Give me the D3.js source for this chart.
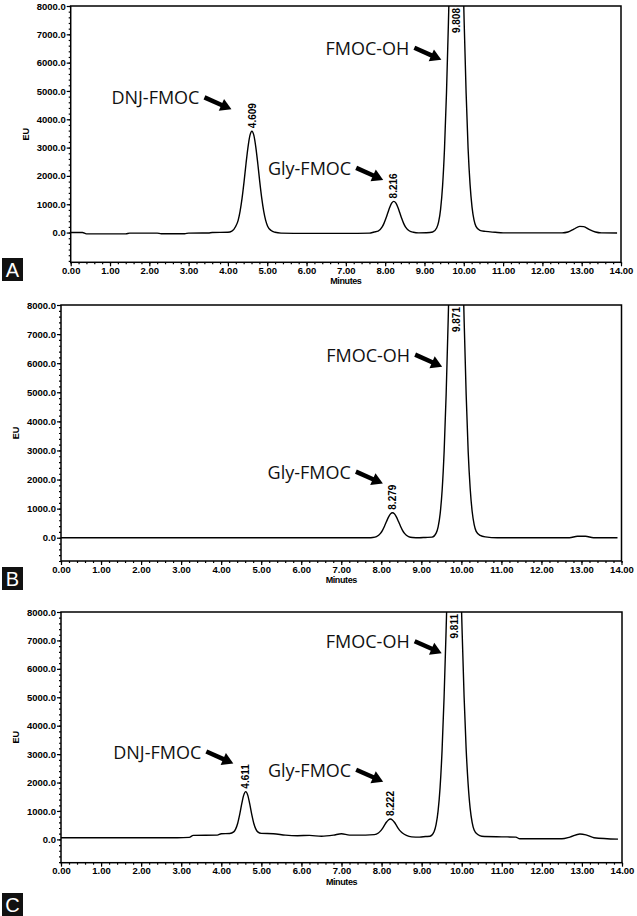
<!DOCTYPE html>
<html>
<head>
<meta charset="utf-8">
<script src="https://cdn.jsdelivr.net/npm/d3@7"></script>
<style>
body { margin: 0; background: #fff; }
svg { display: block; }
</style>
</head>
<body>
<script>
// chromatogram traces, [minutes, EU]
var traceA = [[0,0],[0.3,0],[0.4,-45],[1.4,-45],[1.5,-20],[2.2,-20],[2.3,-40],[2.9,-40],[3.0,-20],[3.5,-15],[3.6,0],[4.0,10],
    [4.1,50],[4.2,225],[4.26,430],[4.31,755],[4.36,1215],[4.41,1790],[4.46,2430],[4.51,3010],[4.56,3430],[4.61,3580],
    [4.66,3430],[4.71,3010],[4.76,2430],[4.81,1790],[4.86,1215],[4.91,755],[4.96,430],[5.01,225],[5.1,70],[5.2,10],
    [5.35,-20],[6.0,-30],[7.0,-30],[7.6,-20],[7.72,20],[7.82,48],[7.92,190],[7.97,325],[8.02,504],[8.07,709],[8.12,905],
    [8.17,1047],[8.22,1100],[8.27,1047],[8.32,905],[8.37,709],[8.42,504],[8.47,325],[8.52,190],[8.62,55],[8.72,10],
    [8.85,-10],[9.05,-5],[9.21,20],[9.31,160],[9.36,375],[9.41,820],[9.46,1630],[9.51,2970],[9.56,4920],[9.61,7430],
    [9.66,10260],[9.71,12900],[9.76,14800],[9.81,15500],[9.86,14800],[9.91,12900],[9.96,10260],[10.01,7430],[10.06,4920],
    [10.11,2970],[10.16,1700],[10.21,900],[10.26,450],[10.31,220],[10.41,80],[10.55,40],[10.8,10],[11.0,-10],[12.5,-10],
    [12.65,20],[12.8,120],[12.95,220],[13.05,210],[13.2,100],[13.35,20],[13.5,-10],[13.9,-15]];

var traceB = [[0,0],[7.7,0],[7.78,7],[7.88,38],[7.98,148],[8.03,254],[8.08,394],[8.13,555],[8.18,708],[8.23,819],
    [8.28,860],[8.33,819],[8.38,708],[8.43,555],[8.48,394],[8.53,254],[8.58,148],[8.68,38],[8.78,7],[8.95,0],[9.1,10],
    [9.27,20],[9.37,160],[9.42,375],[9.47,820],[9.52,1630],[9.57,2970],[9.62,4920],[9.67,7430],[9.72,10260],[9.77,12900],
    [9.82,14800],[9.87,15500],[9.92,14800],[9.97,12900],[10.02,10260],[10.07,7430],[10.12,4920],[10.17,2970],[10.22,1700],
    [10.27,900],[10.32,450],[10.37,220],[10.47,80],[10.6,30],[10.9,0],[12.7,0],[12.9,50],[13.1,50],[13.3,0],[13.9,0]];

var traceC = [[0,60],[2.9,60],[3.2,70],[3.3,140],[3.9,150],[4.0,200],[4.21,206],[4.31,265],[4.36,369],[4.41,569],
    [4.46,878],[4.51,1246],[4.56,1557],[4.61,1680],[4.66,1557],[4.71,1246],[4.76,878],[4.81,569],[4.86,369],[4.91,265],
    [5.0,210],[5.3,200],[5.6,150],[5.9,130],[6.2,140],[6.5,110],[6.8,150],[7.0,200],[7.2,150],[7.6,150],[7.82,166],
    [7.92,226],[7.97,291],[8.02,382],[8.07,493],[8.12,602],[8.17,684],[8.22,715],[8.27,684],[8.32,602],[8.37,493],
    [8.42,382],[8.47,291],[8.52,226],[8.62,140],[8.75,90],[8.95,80],[9.1,100],[9.21,110],[9.31,270],[9.36,520],[9.41,995],
    [9.46,1820],[9.51,3140],[9.56,5000],[9.61,7330],[9.66,9910],[9.71,12280],[9.76,13980],[9.81,14580],[9.86,13980],
    [9.91,12280],[9.96,9910],[10.01,7330],[10.06,5000],[10.11,3200],[10.16,1950],[10.21,1100],[10.26,600],[10.31,330],
    [10.4,170],[10.5,110],[11.0,90],[11.35,80],[11.45,20],[12.5,20],[12.7,80],[12.95,190],[13.1,160],[13.3,60],[13.9,10]];

// retention time labels [minutes, text]
var peaksA = [[4.61,"4.609"],[8.22,"8.216"],[9.81,"9.808"]];
var peaksB = [[8.28,"8.279"],[9.87,"9.871"]];
var peaksC = [[4.61,"4.611"],[8.22,"8.222"],[9.81,"9.811"]];

// compound call-outs [text, arrow tip minutes, arrow tip EU]
var notesA = [["DNJ-FMOC",4.09,4350],["Gly-FMOC",7.95,1860],["FMOC-OH",9.43,6100]];
var notesB = [["Gly-FMOC",8.04,1860],["FMOC-OH",9.52,5880]];
var notesC = [["DNJ-FMOC",4.30,2670],["Gly-FMOC",8.04,2030],["FMOC-OH",9.50,6550]];

var xMajor = d3.range(0, 14.001, 1);
var xMinor = d3.range(0, 14.001, 0.2);
var yMajor = d3.range(0, 8001, 1000);

var W = 637, H = 916;
var svg = d3.select("body").append("svg").attr("width", W).attr("height", H);

var panels = [
    {id: "A", trace: traceA, peaks: peaksA, notes: notesA, left: 70.7, right: 621, top: 6, bottom: 262.3, yMin: -1050, tag: [2, 258]},
    {id: "B", trace: traceB, peaks: peaksB, notes: notesB, left: 61, right: 621.5, top: 305, bottom: 561, yMin: -800, tag: [2, 567]},
    {id: "C", trace: traceC, peaks: peaksC, notes: notesC, left: 61, right: 622, top: 612, bottom: 862.7, yMin: -820, tag: [2, 893]}
];

var tickFont = "'Liberation Sans', Arial, sans-serif";

function drawPanel(p) {
    var x = d3.scaleLinear().domain([0, 14]).range([p.left, p.right]);
    var y = d3.scaleLinear().domain([p.yMin, 8000]).range([p.bottom, p.top]);
    var g = svg.append("g");

    g.append("clipPath").attr("id", "clip" + p.id)
        .append("rect")
        .attr("x", p.left).attr("y", p.top)
        .attr("width", p.right - p.left).attr("height", p.bottom - p.top);

    var line = d3.line()
        .x(function(d) { return x(d[0]); })
        .y(function(d) { return y(d[1]); })
        .curve(d3.curveMonotoneX);

    g.append("path").datum(p.trace)
        .attr("clip-path", "url(#clip" + p.id + ")")
        .attr("d", line)
        .attr("fill", "none").attr("stroke", "#000").attr("stroke-width", 1.4);

    // minor ticks
    var yMinor = d3.range(Math.ceil(p.yMin / 200) * 200, 8001, 200);
    g.append("g").attr("transform", "translate(" + p.left + ",0)")
        .call(d3.axisLeft(y).tickValues(yMinor).tickSize(2).tickFormat(""))
        .call(function(s) { s.select(".domain").remove(); });
    g.append("g").attr("transform", "translate(0," + p.bottom + ")")
        .call(d3.axisBottom(x).tickValues(xMinor).tickSize(2).tickFormat(""))
        .call(function(s) { s.select(".domain").remove(); });

    // major ticks + labels
    var ya = g.append("g").attr("transform", "translate(" + p.left + ",0)")
        .call(d3.axisLeft(y).tickValues(yMajor).tickSize(4).tickPadding(1).tickFormat(d3.format(".1f")));
    var xa = g.append("g").attr("transform", "translate(0," + p.bottom + ")")
        .call(d3.axisBottom(x).tickValues(xMajor).tickSize(4).tickPadding(1).tickFormat(d3.format(".2f")));
    [ya, xa].forEach(function(a) {
        a.select(".domain").remove();
        a.selectAll("text").attr("font-family", tickFont).attr("font-size", 9.5)
            .attr("font-weight", "bold").attr("fill", "#000");
    });
    g.selectAll(".tick line").attr("stroke", "#000").attr("stroke-width", 1.2);

    g.append("rect")
        .attr("x", p.left).attr("y", p.top)
        .attr("width", p.right - p.left).attr("height", p.bottom - p.top)
        .attr("fill", "none").attr("stroke", "#000").attr("stroke-width", 1.5);

    g.append("text")
        .attr("transform", "translate(" + (p.left - 42) + "," + ((p.top + p.bottom) / 2) + ") rotate(-90)")
        .attr("text-anchor", "middle")
        .attr("font-family", tickFont).attr("font-size", 9).attr("font-weight", "bold")
        .text("EU");

    g.append("text")
        .attr("x", (p.left + p.right) / 2).attr("y", p.bottom + 22)
        .attr("text-anchor", "middle")
        .attr("font-family", tickFont).attr("font-size", 9).attr("font-weight", "bold")
        .attr("letter-spacing", -0.4)
        .text("Minutes");

    // retention time labels above apex
    p.peaks.forEach(function(pk) {
        var apex = d3.max(p.trace.filter(function(d) { return Math.abs(d[0] - pk[0]) < 0.06; }), function(d) { return d[1]; });
        var px = x(pk[0]) + 3.6;
        var t = g.append("text")
            .attr("font-family", tickFont).attr("font-size", 10).attr("font-weight", "bold")
            .text(pk[1]);
        if (apex > 8000) {
            t.attr("text-anchor", "end")
             .attr("transform", "translate(" + px + "," + (p.top + 2) + ") rotate(-90)");
        } else {
            t.attr("text-anchor", "start")
             .attr("transform", "translate(" + px + "," + (y(apex) - 3) + ") rotate(-90)");
        }
    });

    // call-outs with arrows
    p.notes.forEach(function(n) {
        var tip = [x(n[1]), y(n[2])];
        var tail = [tip[0] - 27, tip[1] - 12];
        var len = Math.hypot(27, 12), ux = 27 / len, uy = 12 / len;
        var base = [tip[0] - ux * 11, tip[1] - uy * 11];
        g.append("line")
            .attr("x1", tail[0]).attr("y1", tail[1])
            .attr("x2", base[0] + ux * 2).attr("y2", base[1] + uy * 2)
            .attr("stroke", "#000").attr("stroke-width", 4.5);
        g.append("path")
            .attr("d", "M" + tip[0] + "," + tip[1] +
                "L" + (base[0] - uy * 6.5) + "," + (base[1] + ux * 6.5) +
                "L" + (base[0] + uy * 6.5) + "," + (base[1] - ux * 6.5) + "Z")
            .attr("fill", "#000");
        g.append("text")
            .attr("x", tail[0] - 5).attr("y", tail[1] + 7)
            .attr("text-anchor", "end")
            .attr("font-family", "'Open Sans', sans-serif").attr("font-size", 18)
            .attr("fill", "#111")
            .text(n[0]);
    });

    // panel letter
    svg.append("rect").attr("x", p.tag[0]).attr("y", p.tag[1]).attr("width", 21).attr("height", 23).attr("fill", "#111");
    svg.append("text").attr("x", p.tag[0] + 10.5).attr("y", p.tag[1] + 19)
        .attr("text-anchor", "middle").attr("fill", "#fff")
        .attr("font-family", "'Liberation Sans', Arial, sans-serif").attr("font-size", 20)
        .text(p.id);
}

panels.forEach(drawPanel);
</script>
</body>
</html>
